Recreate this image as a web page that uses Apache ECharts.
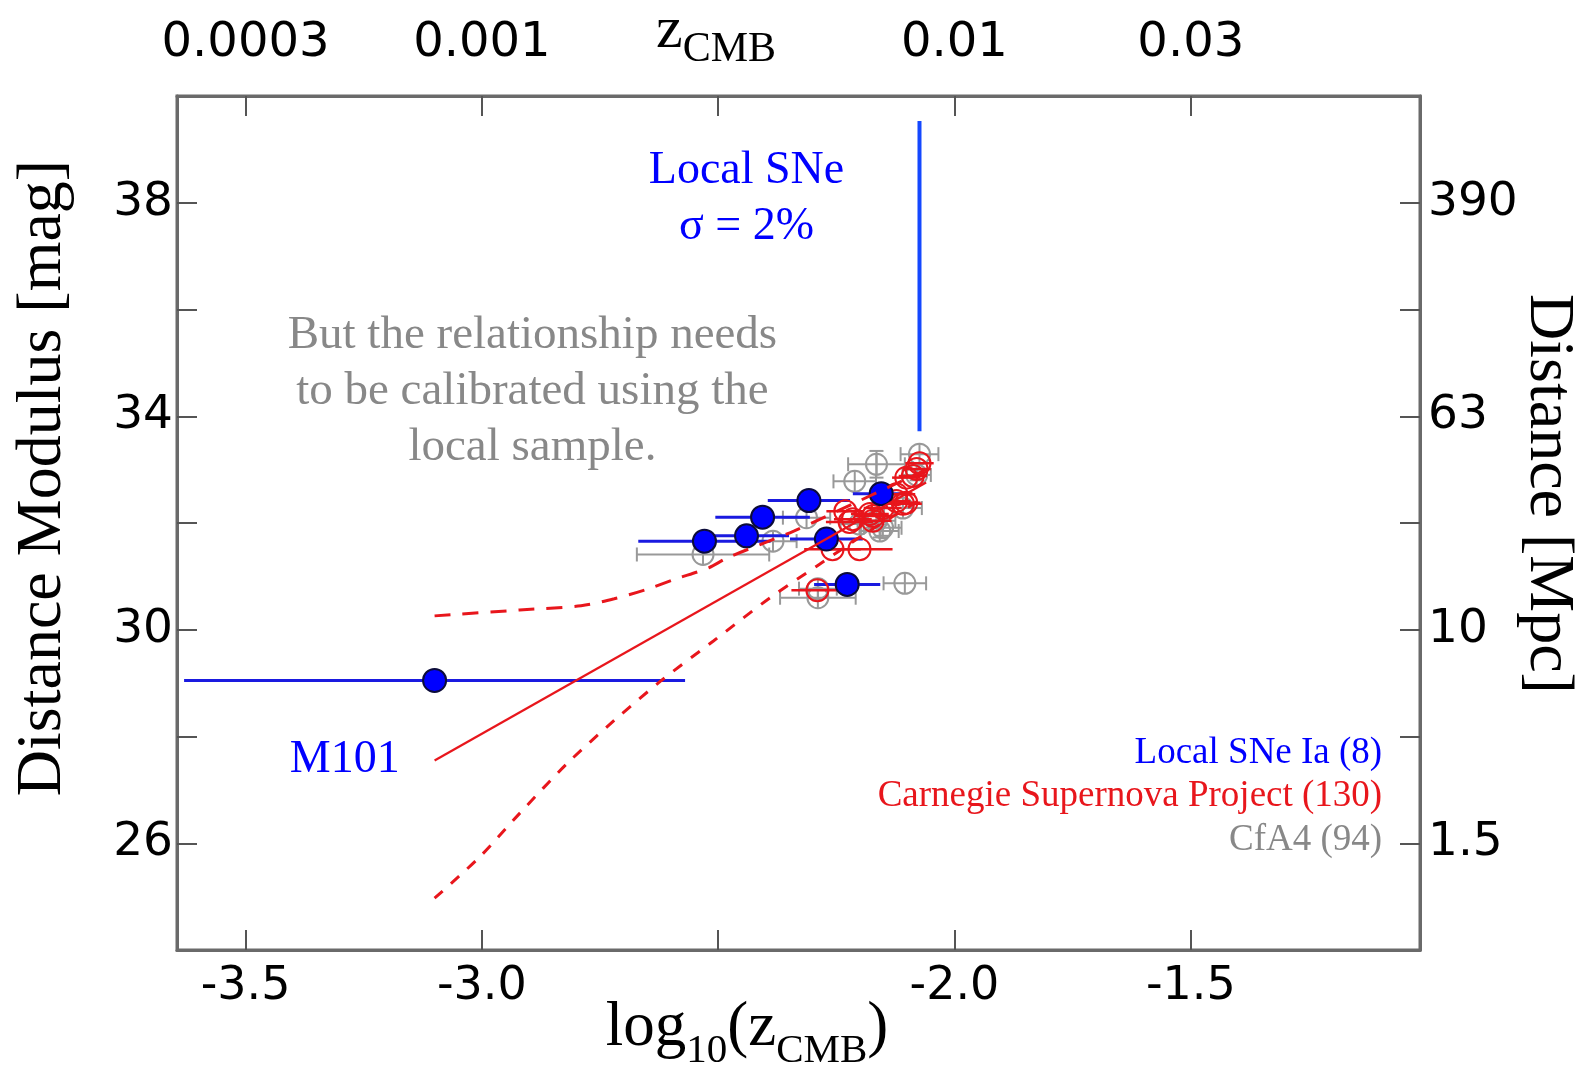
<!DOCTYPE html>
<html><head><meta charset="utf-8">
<script src="https://cdn.jsdelivr.net/npm/echarts@6/dist/echarts.min.js"></script>
<style>html,body{margin:0;padding:0;background:#fff}#c{width:1587px;height:1071px}</style>
</head><body><div id="c"></div>
<script>
// ---- axis ticks / labels ----
const xTicks = [-3.5, -3.0, -2.5, -2.0, -1.5];
const xLabelValues = [-3.5, -3.0, -2.0, -1.5];
const xLabelTexts = ['-3.5', '-3.0', '-2.0', '-1.5'];
const zLabelValues = [-3.5, -3.0, -2.0, -1.5];
const zLabelTexts = ['0.0003', '0.001', '0.01', '0.03'];
const muTicks = [26, 28, 30, 32, 34, 36, 38];
const muLabelValues = [26, 30, 34, 38];
const muLabelTexts = ['26', '30', '34', '38'];
const distLabelTexts = ['1.5', '10', '63', '390'];

// ---- Local SNe Ia (8) ----
const localLogZ = [-3.100, -2.529, -2.440, -2.406, -2.308, -2.271, -2.155, -2.227];
const localMu   = [29.05, 31.66, 31.76, 32.11, 32.42, 31.70, 32.55, 30.85];
const localErr  = [0.53, 0.14, 0.09, 0.10, 0.087, 0.077, 0.06, 0.07];

// ---- Carnegie Supernova Project (visible part) ----
const cspLogZ = [-2.258, -2.201, -2.290, -2.215, -2.172, -2.109, -2.088, -2.102, -2.123, -2.152, -2.179, -2.231, -2.123, -2.102, -2.173, -2.080, -2.074, -2.222];
const cspMu   = [31.51, 31.51, 30.74, 32.07, 32.13, 32.36, 32.88, 32.85, 32.54, 32.28, 32.17, 32.22, 32.41, 32.38, 32.04, 33.01, 33.12, 32.02];
const cspErr  = [0.06, 0.07, 0.055, 0.04, 0.04, 0.04, 0.03, 0.03, 0.04, 0.04, 0.04, 0.04, 0.03, 0.03, 0.04, 0.03, 0.03, 0.05];

// ---- CfA4 (visible part) ----
const cfaLogZ = [-2.532, -2.384, -2.313, -2.165, -2.211, -2.074, -2.165, -2.201, -2.152, -2.109, -2.289, -2.289, -2.105, -2.158, -2.080];
const cfaMu   = [31.41, 31.66, 32.10, 33.10, 32.78, 33.29, 32.04, 31.98, 31.91, 32.28, 30.60, 30.77, 30.87, 31.85, 32.90];
const cfaXErr = [0.14, 0.05, 0.05, 0.06, 0.045, 0.04, 0.04, 0.04, 0.04, 0.04, 0.08, 0.04, 0.045, 0.04, 0.03];
const cfaYErr = [0, 0, 0, 0.25, 0, 0, 0, 0, 0.15, 0, 0, 0, 0, 0.12, 0.1];

// ---- fit and band ----
const fitLogZ = [-3.10, -2.06];
const fitMu   = [27.55, 32.76];
const upperLogZ = [-3.10, -2.92, -2.79, -2.72, -2.65, -2.59, -2.52, -2.48, -2.34, -2.20, -2.06];
const upperMu   = [30.26, 30.37, 30.45, 30.58, 30.76, 30.95, 31.16, 31.35, 31.85, 32.42, 33.00];
const lowerLogZ = [-3.10, -3.005, -2.92, -2.82, -2.72, -2.62, -2.51, -2.39, -2.29, -2.18, -2.06];
const lowerMu   = [24.97, 25.74, 26.56, 27.49, 28.30, 29.05, 29.79, 30.60, 31.20, 31.85, 32.50];

// ---- local SNe limit line ----
const limitLogZ = [-2.074, -2.074];
const limitMu   = [33.72, 39.53];

const BLUE = '#0000ff', RED = '#e8161c', GRAY = '#999999', TXTGRAY = '#888888';
const SERIF = '"Liberation Serif", "Times New Roman", serif';
const SANS = '"DejaVu Sans", Verdana, sans-serif';

const zip = (a, b, ...r) => a.map((v, i) => [v, b[i], ...r.map(x => x[i])]);
const lookup = (vals, texts) => v => { const i = vals.findIndex(t => Math.abs(t - v) < 1e-6); return i < 0 ? '' : texts[i]; };

function barRender(color, width, cap, marker) {
  return function (params, api) {
    const x = api.value(0), y = api.value(1), ex = api.value(2), ey = api.value(3) || 0;
    const c = api.coord([x, y]);
    const l = api.coord([x - ex, y]), r = api.coord([x + ex, y]);
    const st = { stroke: color, lineWidth: width, fill: null };
    const ch = [{ type: 'line', shape: { x1: l[0], y1: l[1], x2: r[0], y2: r[1] }, style: st }];
    if (cap) {
      ch.push({ type: 'line', shape: { x1: l[0], y1: l[1] - cap, x2: l[0], y2: l[1] + cap }, style: st });
      ch.push({ type: 'line', shape: { x1: r[0], y1: r[1] - cap, x2: r[0], y2: r[1] + cap }, style: st });
    }
    if (ey) {
      const t = api.coord([x, y + ey]), b = api.coord([x, y - ey]);
      ch.push({ type: 'line', shape: { x1: t[0], y1: t[1], x2: b[0], y2: b[1] }, style: st });
      ch.push({ type: 'line', shape: { x1: t[0] - cap, y1: t[1], x2: t[0] + cap, y2: t[1] }, style: st });
      ch.push({ type: 'line', shape: { x1: b[0] - cap, y1: b[1], x2: b[0] + cap, y2: b[1] }, style: st });
    }
    if (marker) {
      ch.push({ type: 'circle', shape: { cx: c[0], cy: c[1], r: 10.5 }, style: { stroke: color, lineWidth: width, fill: 'rgba(255,255,255,0)' } });
      ch.push({ type: 'line', shape: { x1: c[0], y1: c[1] - 10.5, x2: c[0], y2: c[1] + 10.5 }, style: st });
    }
    return { type: 'group', children: ch };
  };
}

function textSeries(x, y, text, color, size, pos, lh) {
  return {
    type: 'scatter', data: [[x, y]], symbolSize: 1, silent: true, z: 20,
    itemStyle: { color: 'transparent', opacity: 1 },
    label: { show: true, position: pos || 'inside', distance: 0, formatter: text, color: color, opacity: 1,
      fontFamily: SERIF, fontSize: size, lineHeight: lh || size * 1.2, align: pos === 'left' ? 'right' : 'center' }
  };
}

const chart = echarts.init(document.getElementById('c'), null, { renderer: 'canvas' });
const axisCommon = {
  type: 'value', splitLine: { show: false },
  axisLine: { show: true, lineStyle: { color: '#6a6a6a', width: 3 } },
  axisTick: { show: true, inside: true, length: 20, lineStyle: { color: '#555', width: 2 } }
};
chart.setOption({
  animation: false,
  backgroundColor: '#fff',
  grid: { left: 177, right: 167, top: 96, bottom: 121, show: true, borderColor: '#6a6a6a', borderWidth: 3 },
  xAxis: [
    Object.assign({}, axisCommon, { min: -3.645, max: -1.015, position: 'bottom',
      axisTick: Object.assign({}, axisCommon.axisTick, { customValues: xTicks }),
      axisLabel: { customValues: xLabelValues, formatter: lookup(xLabelValues, xLabelTexts), fontFamily: SANS, fontSize: 46, color: '#000', margin: 14 } }),
    Object.assign({}, axisCommon, { min: -3.645, max: -1.015, position: 'top',
      axisTick: Object.assign({}, axisCommon.axisTick, { customValues: xTicks }),
      axisLabel: { customValues: zLabelValues, formatter: lookup(zLabelValues, zLabelTexts), fontFamily: SANS, fontSize: 48, color: '#000', margin: 28 } })
  ],
  yAxis: [
    Object.assign({}, axisCommon, { min: 24, max: 40, position: 'left',
      axisTick: Object.assign({}, axisCommon.axisTick, { customValues: muTicks }),
      axisLabel: { customValues: muLabelValues, formatter: lookup(muLabelValues, muLabelTexts), fontFamily: SANS, fontSize: 47, color: '#000', margin: 4 } }),
    Object.assign({}, axisCommon, { min: 24, max: 40, position: 'right',
      axisTick: Object.assign({}, axisCommon.axisTick, { customValues: muTicks }),
      axisLabel: { customValues: muLabelValues, formatter: lookup(muLabelValues, distLabelTexts), fontFamily: SANS, fontSize: 47, color: '#000', margin: 8 } })
  ],
  graphic: [
    { type: 'text', x: 43, y: 478, rotation: Math.PI / 2, style: { text: 'Distance Modulus [mag]', font: '64px ' + SERIF, fill: '#000', align: 'center', verticalAlign: 'middle', textAlign: 'center', textVerticalAlign: 'middle' } },
    { type: 'text', x: 1548, y: 494, rotation: -Math.PI / 2, style: { text: 'Distance [Mpc]', font: '64px ' + SERIF, fill: '#000', align: 'center', verticalAlign: 'middle', textAlign: 'center', textVerticalAlign: 'middle' } },
    { type: 'text', x: 747, y: 1034, style: { text: '{m|log}{s|10}{m|(z}{s|CMB}{m|)}', align: 'center', verticalAlign: 'middle', textAlign: 'center', textVerticalAlign: 'middle',
        rich: { m: { fontFamily: SERIF, fontSize: 63, color: '#000', verticalAlign: 'bottom', padding: [0, 0, 12, 0] }, s: { fontFamily: SERIF, fontSize: 41, color: '#000', verticalAlign: 'bottom' } } } },
    { type: 'text', x: 716, y: 36, style: { text: '{m|z}{s|CMB}', align: 'center', verticalAlign: 'middle', textAlign: 'center', textVerticalAlign: 'middle',
        rich: { m: { fontFamily: SERIF, fontSize: 60, color: '#000', verticalAlign: 'bottom', padding: [0, 0, 10, 0] }, s: { fontFamily: SERIF, fontSize: 42, color: '#000', verticalAlign: 'bottom' } } } }
  ],
  series: [
    { type: 'custom', xAxisIndex: 0, yAxisIndex: 0, clip: true, z: 2, renderItem: barRender(GRAY, 2, 7, true), data: zip(cfaLogZ, cfaMu, cfaXErr, cfaYErr) },
    { type: 'custom', xAxisIndex: 0, yAxisIndex: 0, clip: true, z: 3, renderItem: barRender('#1a1ae0', 3, 0, false), data: zip(localLogZ, localMu, localErr, localErr.map(() => 0)) },
    { type: 'custom', xAxisIndex: 0, yAxisIndex: 0, clip: true, z: 4, renderItem: barRender(RED, 2.5, 0, false), data: zip(cspLogZ, cspMu, cspErr, cspErr.map(() => 0)) },
    { type: 'scatter', z: 5, symbol: 'circle', symbolSize: 22, itemStyle: { color: 'rgba(255,255,255,0)', borderColor: RED, borderWidth: 2, opacity: 1 }, data: zip(cspLogZ, cspMu) },
    { type: 'scatter', z: 6, symbol: 'circle', symbolSize: 23, itemStyle: { color: '#0000ff', borderColor: '#0c0c3a', borderWidth: 2, opacity: 1 }, data: zip(localLogZ, localMu) },
    { type: 'line', z: 7, symbol: 'none', lineStyle: { color: RED, width: 2.2 }, data: zip(fitLogZ, fitMu) },
    { type: 'line', z: 7, symbol: 'none', smooth: 0.3, lineStyle: { color: RED, width: 3, type: [16, 12] }, data: zip(upperLogZ, upperMu) },
    { type: 'line', z: 7, symbol: 'none', smooth: 0.3, lineStyle: { color: RED, width: 3, type: [11, 11] }, data: zip(lowerLogZ, lowerMu) },
    { type: 'line', z: 7, symbol: 'none', lineStyle: { color: '#1448ff', width: 4 }, data: zip(limitLogZ, limitMu) },
    textSeries(-2.440, 38.07, 'Local SNe\nσ = 2%', BLUE, 46, 'inside', 56),
    textSeries(-2.893, 34.47, 'But the relationship needs\nto be calibrated using the\nlocal sample.', TXTGRAY, 47, 'inside', 56),
    textSeries(-3.290, 27.57, 'M101', BLUE, 46, 'inside'),
    textSeries(-1.094, 27.68, 'Local SNe Ia (8)', BLUE, 37, 'left'),
    textSeries(-1.094, 26.88, 'Carnegie Supernova Project (130)', RED, 37, 'left'),
    textSeries(-1.094, 26.06, 'CfA4 (94)', TXTGRAY, 37, 'left')
  ]
});
</script></body></html>
